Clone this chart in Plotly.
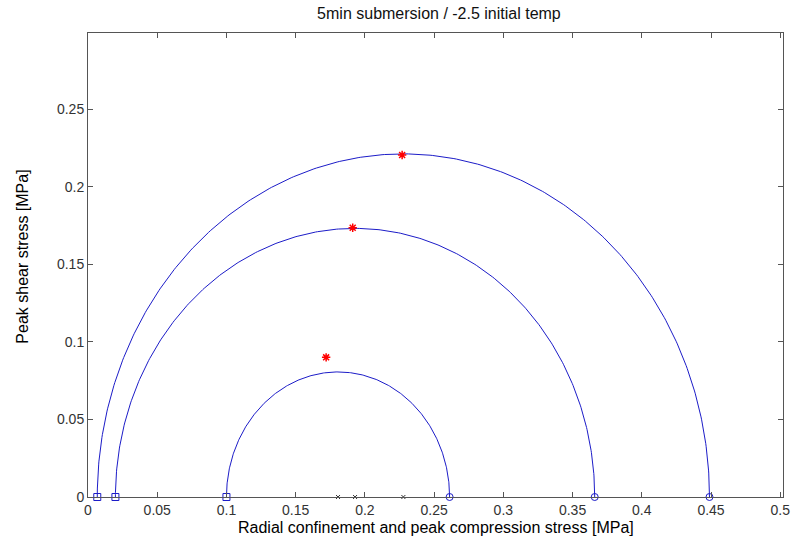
import numpy as np
import plotly.graph_objects as go

# Mohr circles: radial confinement (sigma3) and peak compression (sigma1), MPa
sigma3 = [0.100, 0.0198, 0.0067]
sigma1 = [0.2612, 0.366, 0.4489]

# measured peak shear points, MPa
peak_x = [0.172, 0.1912, 0.2269]
peak_tau = [0.090, 0.1735, 0.2204]

x_ticks = [0, 0.05, 0.1, 0.15, 0.2, 0.25, 0.3, 0.35, 0.4, 0.45, 0.5]
y_ticks = [0, 0.05, 0.1, 0.15, 0.2, 0.25]

BLUE = "#1c1cc8"
FONT = "Liberation Sans, Arial, sans-serif"

fig = go.Figure()

theta = np.linspace(0, np.pi, 361)
for s3, s1 in zip(sigma3, sigma1):
    c = (s1 + s3) / 2
    r = (s1 - s3) / 2
    fig.add_trace(go.Scatter(x=c + r * np.cos(theta), y=r * np.sin(theta),
                             mode="lines", line=dict(color=BLUE, width=1),
                             hoverinfo="skip"))

centers = [(a + b) / 2 for a, b in zip(sigma3, sigma1)]

fig.add_trace(go.Scatter(x=sigma3, y=[0] * len(sigma3), mode="markers",
                         marker=dict(symbol="square-open", size=7,
                                     line=dict(color=BLUE, width=1), color=BLUE),
                         cliponaxis=False))
fig.add_trace(go.Scatter(x=sigma1, y=[0] * len(sigma1), mode="markers",
                         marker=dict(symbol="circle-open", size=7,
                                     line=dict(color=BLUE, width=1), color=BLUE),
                         cliponaxis=False))
fig.add_trace(go.Scatter(x=centers, y=[0] * len(centers), mode="markers",
                         marker=dict(symbol="x-thin-open", size=4, color="#333333",
                                     line=dict(color="#333333", width=1)),
                         cliponaxis=False))
fig.add_trace(go.Scatter(x=peak_x, y=peak_tau, mode="markers",
                         marker=dict(symbol="asterisk-open", size=7, color="#ff0000",
                                     line=dict(color="#ff0000", width=1.5)),
                         cliponaxis=False))

axis_common = dict(showgrid=False, zeroline=False, showline=True,
                   linecolor="#555555", linewidth=1, mirror="ticks",
                   ticks="inside", ticklen=5, tickcolor="#555555",
                   tickfont=dict(family=FONT, size=14, color="#333333"))

fig.update_layout(
    width=801, height=545,
    margin=dict(l=88, r=11, t=33, b=48),
    paper_bgcolor="white", plot_bgcolor="white",
    showlegend=False,
    title=dict(text="5min submersion / -2.5 initial temp", x=0.548, xanchor="center",
               y=1 - 13 / 545, yanchor="middle", yref="container",
               font=dict(family=FONT, size=16, color="#111111")),
    xaxis=dict(range=[0, 0.502], tickvals=x_ticks,
               ticktext=[f"{v:g}" for v in x_ticks], **axis_common),
    yaxis=dict(range=[0, 0.299], tickvals=y_ticks,
               ticktext=[f"{v:g}" for v in y_ticks], **axis_common),
    annotations=[
        dict(text="Radial confinement and peak compression stress [MPa]",
             xref="paper", yref="paper", x=0.5, y=-30 / 464,
             xanchor="center", yanchor="middle", showarrow=False,
             font=dict(family=FONT, size=16, color="black")),
        dict(text="Peak shear stress [MPa]", textangle=-90,
             xref="paper", yref="paper", x=-67 / 702, y=(497 - 257) / 464,
             xanchor="center", yanchor="middle", showarrow=False,
             font=dict(family=FONT, size=16, color="black")),
    ],
)

fig.write_html("out.html")
